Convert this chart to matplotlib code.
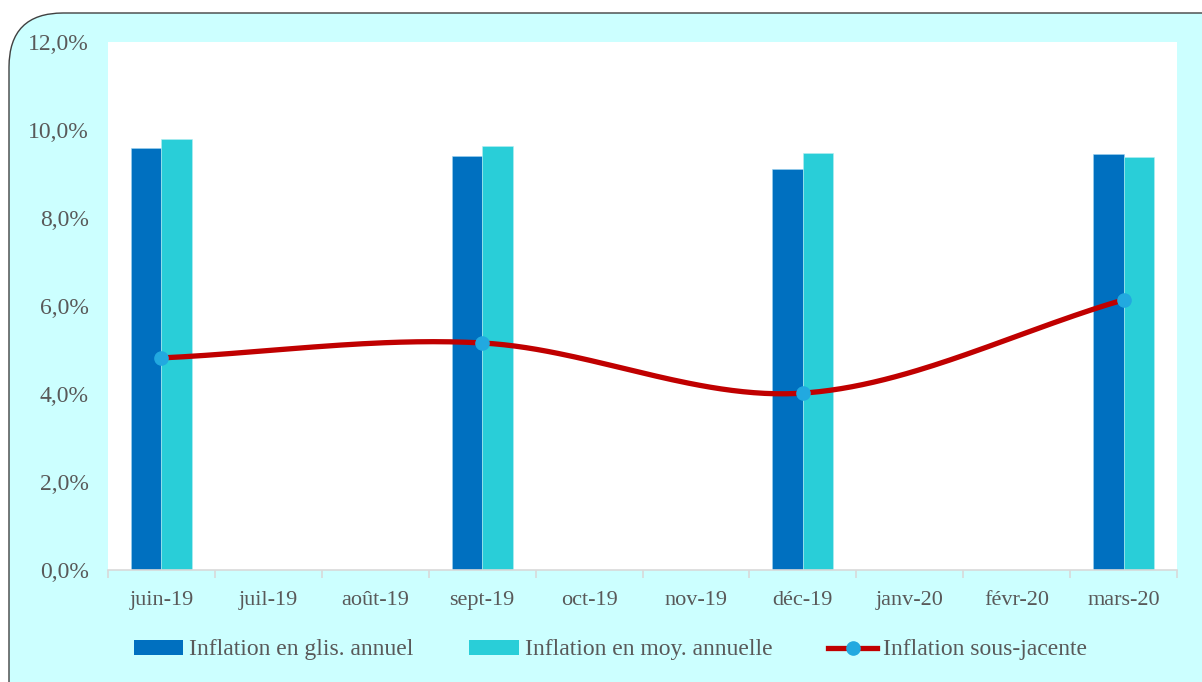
import numpy as np
import matplotlib.pyplot as plt
from matplotlib.patches import FancyBboxPatch, Patch
from matplotlib.lines import Line2D
from matplotlib.ticker import FuncFormatter

# -------------------------------
# DATA
# -------------------------------
months = ["juin-19", "juil-19", "août-19", "sept-19", "oct-19",
          "nov-19", "déc-19", "janv-20", "févr-20", "mars-20"]
glis_annuel = [9.6, None, None, 9.41, None, None, 9.11, None, None, 9.45]
moy_annuelle = [9.8, None, None, 9.64, None, None, 9.48, None, None, 9.39]
sous_jacente = [4.82, None, None, 5.16, None, None, 4.02, None, None, 6.14]

labels = ["Inflation en glis. annuel", "Inflation en moy. annuelle", "Inflation sous-jacente"]

C_BLUE = "#0070C0"
C_CYAN = "#29CED8"
C_RED = "#C00000"
C_MARK = "#22A9E0"
C_BG = "#CCFFFF"
C_TXT = "#595959"

plt.rcParams["font.family"] = ["Liberation Serif", "DejaVu Serif"]


def catmull_rom(xs, ys, n=60):
    """Smooth curve through points (Excel-like smoothed line)."""
    xs = np.asarray(xs, float)
    ys = np.asarray(ys, float)
    px = np.concatenate([[2 * xs[0] - xs[1]], xs, [2 * xs[-1] - xs[-2]]])
    py = np.concatenate([[2 * ys[0] - ys[1]], ys, [2 * ys[-1] - ys[-2]]])
    out_x, out_y = [], []
    for i in range(1, len(px) - 2):
        t = np.linspace(0, 1, n)
        for p, out in ((px, out_x), (py, out_y)):
            p0, p1, p2, p3 = p[i - 1], p[i], p[i + 1], p[i + 2]
            out.extend(0.5 * ((2 * p1) + (-p0 + p2) * t
                              + (2 * p0 - 5 * p1 + 4 * p2 - p3) * t ** 2
                              + (-p0 + 3 * p1 - 3 * p2 + p3) * t ** 3))
    return np.array(out_x), np.array(out_y)


# -------------------------------
# FIGURE
# -------------------------------
W, H = 1202, 682
fig = plt.figure(figsize=(W / 100, H / 100), dpi=100)
fig.patch.set_facecolor("white")

bg = FancyBboxPatch((9 / W, -0.1), 1.2, (H - 13) / H + 0.1,
                    boxstyle="round,pad=0,rounding_size=0.045",
                    transform=fig.transFigure, facecolor=C_BG,
                    edgecolor="#404040", linewidth=1.0, zorder=-5,
                    mutation_aspect=W / H)
fig.patches.append(bg)

ax = fig.add_axes([108 / W, 1 - 570 / H, (1177 - 108) / W, (570 - 42) / H], zorder=2)
ax.set_facecolor("white")

x = np.arange(len(months))
bw = 0.285
for i in x:
    if glis_annuel[i] is not None:
        ax.bar(i - bw / 2, glis_annuel[i], bw, color=C_BLUE, edgecolor="#9DD3F0", linewidth=0.4, zorder=2)
    if moy_annuelle[i] is not None:
        ax.bar(i + bw / 2, moy_annuelle[i], bw, color=C_CYAN, edgecolor="#B5EEF2", linewidth=0.4, zorder=2)

lx = [i for i in x if sous_jacente[i] is not None]
ly = [sous_jacente[i] for i in lx]
sx, sy = catmull_rom(lx, ly)
ax.plot(sx, sy, color=C_RED, linewidth=3.8, solid_capstyle="round", zorder=3)
ax.plot(lx, ly, "o", color=C_MARK, markersize=9.5, zorder=4)

ax.set_xlim(-0.5, len(months) - 0.5)
ax.set_ylim(0, 12)
ax.set_yticks(np.arange(0, 12.1, 2))
ax.yaxis.set_major_formatter(FuncFormatter(lambda v, p: f"{v:.1f}%".replace(".", ",")))
ax.set_xticks(x)
ax.set_xticklabels(months)
ax.set_xticks(np.arange(-0.5, len(months), 1), minor=True)

for s in ["top", "right", "left"]:
    ax.spines[s].set_visible(False)
ax.spines["bottom"].set_color("#D9D9D9")
ax.spines["bottom"].set_linewidth(1.2)

ax.tick_params(axis="x", which="major", length=0, pad=15, labelsize=16, labelcolor=C_TXT)
ax.tick_params(axis="x", which="minor", length=6, color="#D9D9D9", width=1.2)
ax.tick_params(axis="y", length=0, pad=14, labelsize=17, labelcolor=C_TXT)

handles = [Patch(facecolor=C_BLUE), Patch(facecolor=C_CYAN),
           Line2D([0], [0], color=C_RED, linewidth=3.8, marker="o",
                  markersize=9.5, markerfacecolor=C_MARK, markeredgecolor=C_MARK)]
fig.legend(handles, labels, loc="center", bbox_to_anchor=(0.508, 1 - 650 / H),
           ncol=3, frameon=False, fontsize=17, labelcolor=C_TXT,
           handlelength=2.1, handleheight=0.6, handletextpad=0.25, columnspacing=2.35)

fig.savefig("out.png", dpi=100, facecolor=fig.get_facecolor())
